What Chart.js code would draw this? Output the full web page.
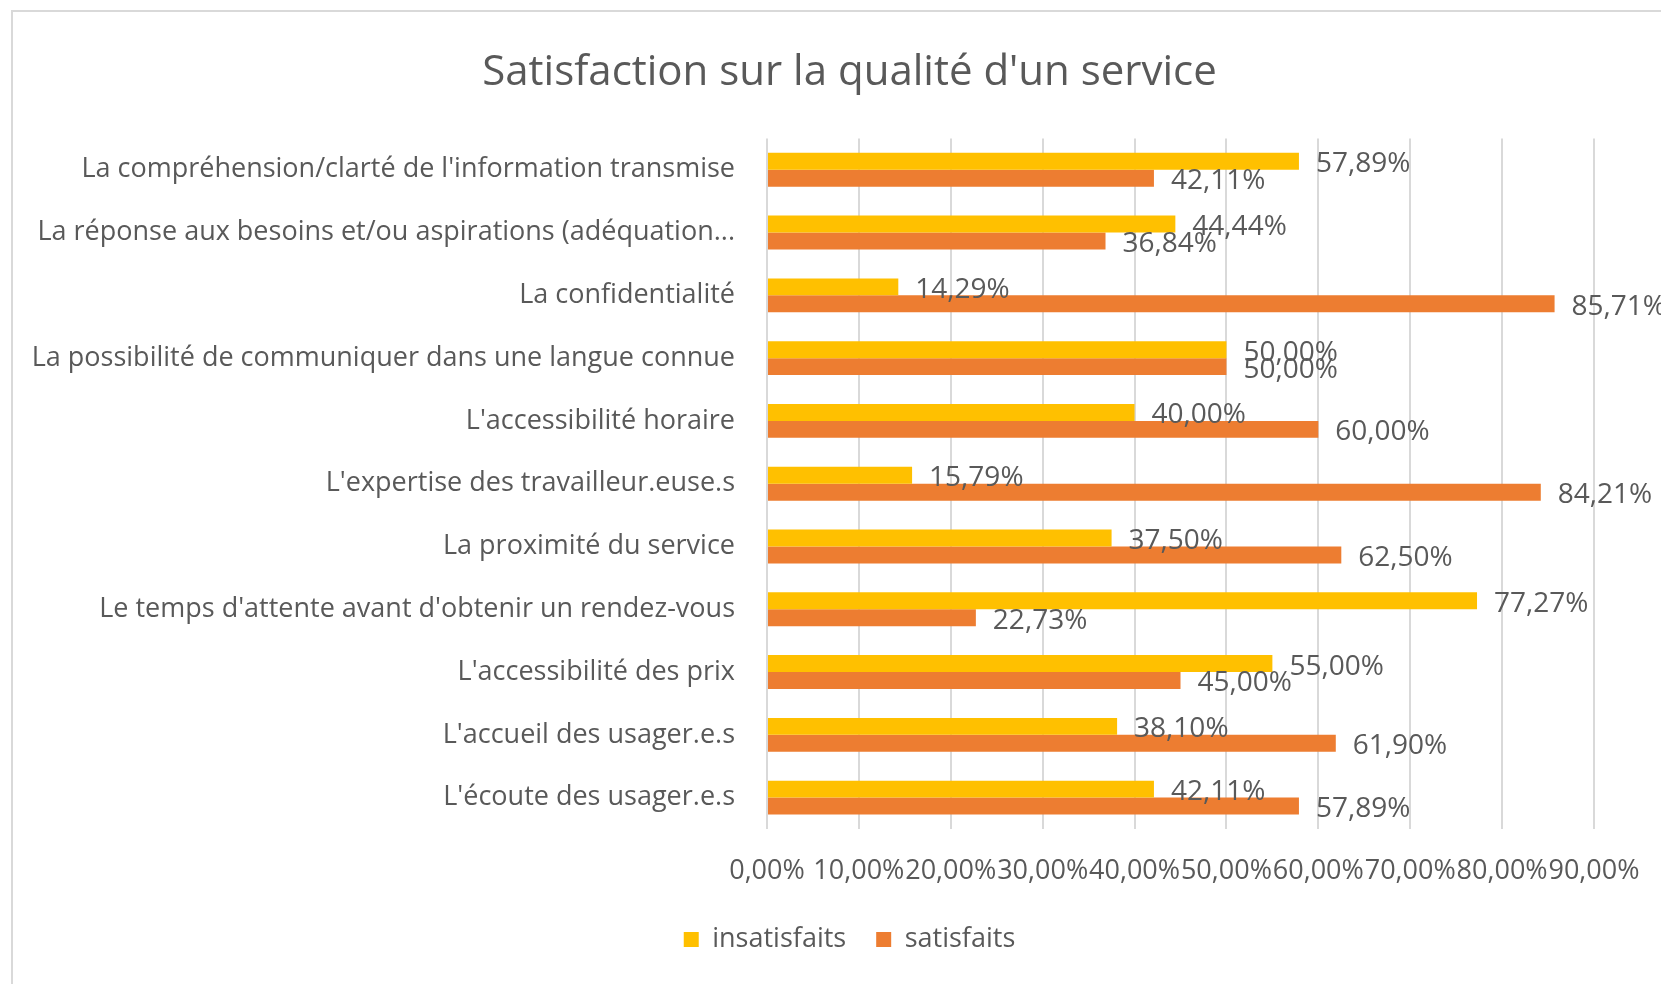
<!DOCTYPE html>
<html>
<head>
<meta charset="utf-8">
<script src="https://cdn.jsdelivr.net/npm/chart.js@4"></script>
<style>
  html, body { margin: 0; padding: 0; background: #fff; overflow: hidden; }
  #frame { position: absolute; left: 11px; top: 10px; width: 1700px; height: 1000px; border-left: 2px solid #d9d9d9; border-top: 2px solid #d9d9d9; }
  #chart { position: absolute; left: 0; top: 0; }
</style>
</head>
<body>
<div id="frame"></div>
<canvas id="chart" width="1661" height="984"></canvas>
<script>
const categories = [
  "La compréhension/clarté de l'information transmise",
  "La réponse aux besoins et/ou aspirations (adéquation...",
  "La confidentialité",
  "La possibilité de communiquer dans une langue connue",
  "L'accessibilité horaire",
  "L'expertise des travailleur.euse.s",
  "La proximité du service",
  "Le temps d'attente avant d'obtenir un rendez-vous",
  "L'accessibilité des prix",
  "L'accueil des usager.e.s",
  "L'écoute des usager.e.s"
];
const insatisfaits = [57.89, 44.44, 14.29, 50.00, 40.00, 15.79, 37.50, 77.27, 55.00, 38.10, 42.11];
const satisfaits = [42.11, 36.84, 85.71, 50.00, 60.00, 84.21, 62.50, 22.73, 45.00, 61.90, 57.89];
const xTicks = [0, 10, 20, 30, 40, 50, 60, 70, 80, 90];

const textColor = '#595959';
const fontFamily = "'Open Sans', sans-serif";
const fmt = v => v.toFixed(2).replace('.', ',') + '%';

// data labels drawn next to the bar ends
const barLabels = {
  id: 'barLabels',
  afterLayout(chart) {
    // let the long category labels run left of the padded area without clipping
    chart.scales.y.left = 0;
  },
  afterDatasetsDraw(chart) {
    const ctx = chart.ctx;
    ctx.save();
    ctx.font = '28px ' + fontFamily;
    ctx.fillStyle = textColor;
    ctx.textAlign = 'left';
    ctx.textBaseline = 'middle';
    chart.data.datasets.forEach((ds, i) => {
      chart.getDatasetMeta(i).data.forEach((bar, j) => {
        ctx.fillText(fmt(ds.data[j]), bar.x + 17, bar.y + 3);
      });
    });
    ctx.restore();
  }
};

Chart.defaults.font.family = fontFamily;
Chart.defaults.color = textColor;

new Chart(document.getElementById('chart'), {
  type: 'bar',
  data: {
    labels: categories,
    datasets: [
      { label: 'insatisfaits', data: insatisfaits, backgroundColor: '#FFC000' },
      { label: 'satisfaits', data: satisfaits, backgroundColor: '#ED7D31' }
    ]
  },
  options: {
    indexAxis: 'y',
    responsive: false,
    animation: false,
    layout: { padding: { left: 105, right: 67, top: 0, bottom: 21 } },
    datasets: { bar: { categoryPercentage: 0.54, barPercentage: 1 } },
    scales: {
      x: {
        min: 0, max: 90,
        afterBuildTicks: s => { s.ticks = xTicks.map(v => ({ value: v })); },
        afterFit: s => { s.height = 67; s.paddingRight = 0; },
        grid: { color: '#d9d9d9', lineWidth: 2, drawTicks: false },
        border: { display: false },
        ticks: { autoSkip: false, maxRotation: 0, padding: 26, color: textColor, font: { size: 27 }, callback: v => fmt(v) }
      },
      y: {
        afterFit: s => { s.width = 767 - 105; },
        grid: { display: false, drawTicks: false },
        border: { display: false },
        ticks: { padding: 32, color: textColor, font: { size: 27 } }
      }
    },
    plugins: {
      title: {
        display: true,
        text: "Satisfaction sur la qualité d'un service",
        color: textColor,
        font: { size: 42, weight: 'normal' },
        padding: { top: 48, bottom: 40 }
      },
      legend: {
        position: 'bottom',
        labels: { boxWidth: 15, boxHeight: 15, padding: 30, color: textColor, font: { size: 27 } }
      },
      tooltip: { enabled: false }
    }
  },
  plugins: [barLabels]
});
</script>
</body>
</html>
